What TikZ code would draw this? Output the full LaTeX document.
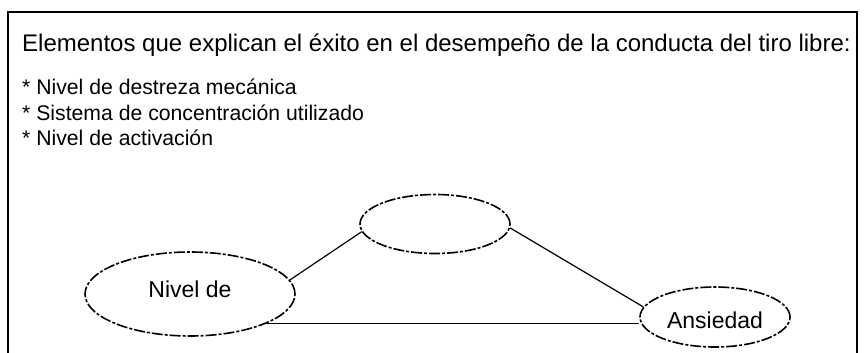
\documentclass[tikz,border=0pt]{standalone}
\usepackage{fontspec}
\setmainfont{Liberation Sans}
\usetikzlibrary{shapes.geometric}
\begin{document}
\begin{tikzpicture}[x=1pt,y=-1pt,
  frameline/.style={line width=2pt},
  oval/.style={ellipse,draw,line width=1.6pt,inner sep=0pt,
    dash pattern=on 11pt off 2pt on 3pt off 2pt,
    font=\fontsize{23}{26}\selectfont},
  conn/.style={line width=1.2pt},
  titletext/.style={anchor=base west,inner sep=0pt,font=\fontsize{24}{28}\selectfont},
  itemtext/.style={anchor=base west,inner sep=0pt,font=\fontsize{21.2}{24}\selectfont}]
\useasboundingbox (0,0) rectangle (865,353);
\fill[white] (0,0) rectangle (865,353);
% frame
\coordinate (f1) at (8,353);
\coordinate (f2) at (8,12);
\coordinate (f3) at (857,12);
\coordinate (f4) at (857,353);
\draw[frameline] (f1) -- (f2) -- (f3) -- (f4);
% texts
\node[titletext] (title) at (22,52) {Elementos que explican el éxito en el desempeño de la conducta del tiro libre:};
\node[itemtext] (i1) at (22,95) {* Nivel de destreza mecánica};
\node[itemtext] (i2) at (22,120) {* Sistema de concentración utilizado};
\node[itemtext] (i3) at (22,145) {* Nivel de activación};
% ellipses
\node[oval,minimum width=210pt,minimum height=84pt,text depth=10pt] (L) at (190,294) {Nivel de};
\node[oval,minimum width=150pt,minimum height=59pt] (T) at (435,224) {};
\node[oval,minimum width=150pt,minimum height=60pt,text height=23pt] (A) at (715,317) {Ansiedad};
% connectors
\draw[conn] (L.8) -- (T.186);
\draw[conn] (T.357) -- (A.172);
\draw[conn] (L.-21) -- (A.west |- L.-21);
\end{tikzpicture}
\end{document}
